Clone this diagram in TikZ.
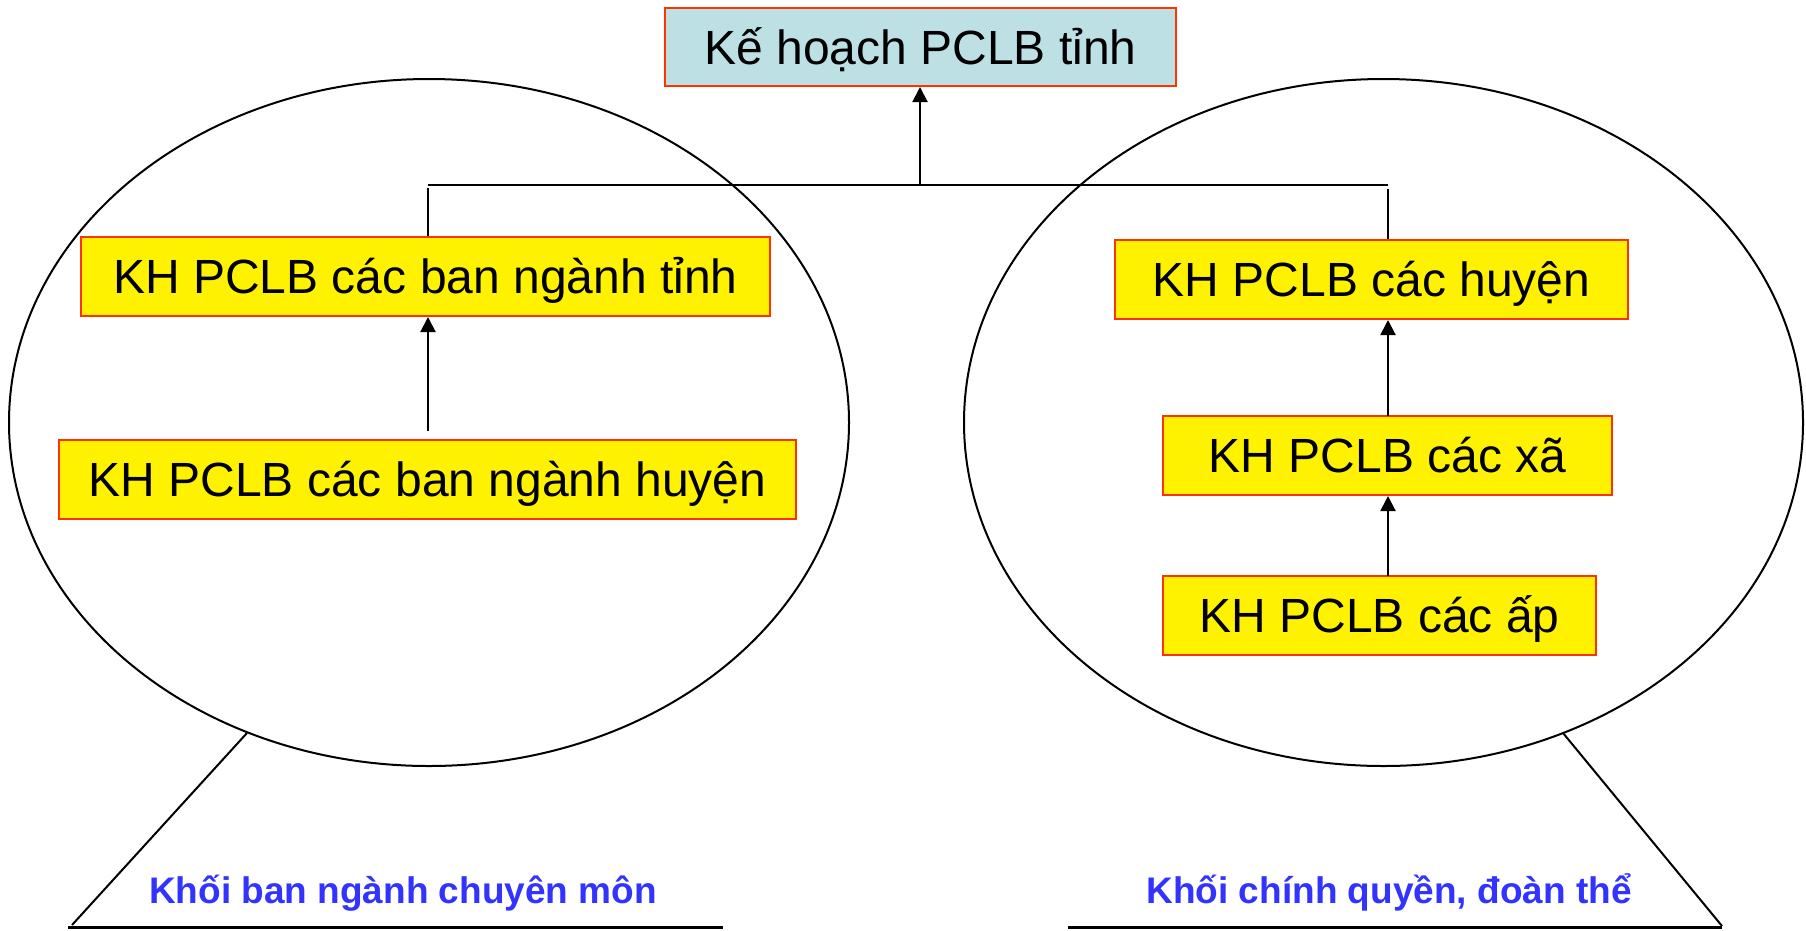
\documentclass[tikz,border=0pt]{standalone}
\usepackage{fontspec}
\setmainfont{Liberation Sans}
\usetikzlibrary{arrows.meta}
\definecolor{boxred}{HTML}{FF3300}
\definecolor{topfill}{HTML}{BCE0E3}
\definecolor{labblue}{HTML}{3333FF}
\tikzset{
  planbox/.style={draw=boxred, line width=2pt, fill=yellow, inner sep=0pt, anchor=center,
    font=\fontsize{48}{56}\selectfont, text=black, text height=34.4pt, text depth=0pt},
  topbox/.style={planbox, fill=topfill},
  conn/.style={line width=2pt, draw=black},
  arr/.style={conn, -{Triangle[width=15pt,length=15pt]}},
  blocklabel/.style={font=\fontsize{37}{42}\selectfont\bfseries, text=labblue, inner sep=0pt,
    text height=26.5pt, text depth=0pt},
  oval/.style={line width=2pt, draw=black},
  base/.style={line width=3pt, draw=black},
}
\begin{document}
\begin{tikzpicture}[x=1pt,y=-1pt]
\useasboundingbox (0,0) rectangle (1806,930);
% ellipses
\draw[oval] (429,422.5) ellipse [x radius=420, y radius=343.5];
\draw[oval] (1383.5,422.5) ellipse [x radius=419.5, y radius=343.5];
% boxes
\node[topbox, minimum width=511pt, minimum height=78pt] (top) at (920.5,47) {Kế hoạch PCLB tỉnh};
\node[planbox, minimum width=689pt, minimum height=79pt] (bnt) at (425.5,276.5) {KH PCLB các ban ngành tỉnh};
\node[planbox, minimum width=737pt, minimum height=79pt] (bnh) at (427.5,479.5) {KH PCLB các ban ngành huyện};
\node[planbox, minimum width=513pt, minimum height=79pt] (huyen) at (1371.5,279.5) {KH PCLB các huyện};
\node[planbox, minimum width=449pt, minimum height=79pt] (xa) at (1387.5,455.5) {KH PCLB các xã};
\node[planbox, minimum width=433pt, minimum height=79pt] (ap) at (1379.5,615.5) {KH PCLB các ấp};
% junction line
\coordinate (jl) at (428,185);
\coordinate (jr) at (1388,185);
\coordinate (jm) at (920,185);
\draw[conn] (jl) -- (jr);
\draw[arr] (jm) -- (jm |- top.south);
\coordinate (dl) at (428,188);
\coordinate (dr) at (1388,189);
\draw[conn] (dl) -- (dl |- bnt.north);
\draw[conn] (dr) -- (dr |- huyen.north);
% inner arrows
\coordinate (al) at (428,431);
\draw[arr] (al) -- (al |- bnt.south);
\coordinate (ax) at (1388,416);
\draw[arr] (ax) -- (ax |- huyen.south);
\coordinate (aa) at (1388,576);
\draw[arr] (aa) -- (aa |- xa.south);
% tails
\coordinate (tl1) at (247,733);
\coordinate (tl2) at (72,925);
\coordinate (bl1) at (68,927);
\coordinate (bl2) at (723,927);
\draw[conn] (tl1) -- (tl2);
\draw[base] (bl1) -- (bl2);
\coordinate (tr1) at (1563,733);
\coordinate (tr2) at (1722,926);
\coordinate (br1) at (1068,927);
\coordinate (br2) at (1722,927);
\draw[conn] (tr1) -- (tr2);
\draw[base] (br1) -- (br2);
% labels
\node[blocklabel] (lab1) at (403,890.5) {Khối ban ngành chuyên môn};
\node[blocklabel] (lab2) at (1389,890.5) {Khối chính quyền, đoàn thể};
\end{tikzpicture}
\end{document}
